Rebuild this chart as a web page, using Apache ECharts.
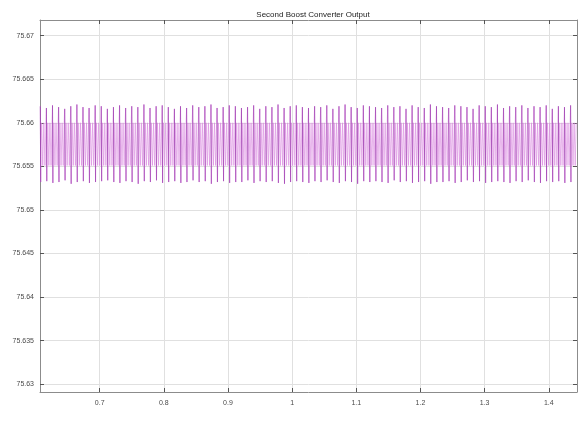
<!DOCTYPE html>
<html>
<head>
<meta charset="utf-8">
<script src="https://cdn.jsdelivr.net/npm/echarts@6/dist/echarts.min.js"></script>
<style>
html,body{margin:0;padding:0;background:#fff;}
#chart{width:579px;height:425px;}
</style>
</head>
<body>
<div id="chart"></div>
<script>
// ---- data ----
var titleText = 'Second Boost Converter Output';
var xTicks = [0.7, 0.8, 0.9, 1, 1.1, 1.2, 1.3, 1.4];
var yTicks = [75.63, 75.635, 75.64, 75.645, 75.65, 75.655, 75.66, 75.665, 75.67];
var xMin = 0.607, xMax = 1.444;
var yMin = 75.6291, yMax = 75.6718;
var tStart = 0.6075;      // first switching cycle
var period = 0.0095;      // switching cycle length (s)
var coreTop = 75.6600;    // upper edge of ripple band
var coreBottom = 75.6551; // lower edge of ripple band
// per-cycle spike maxima
var peakHigh = [
75.6619,75.6617,75.6620,75.6618,75.6616,75.6619,75.6621,75.6618,75.6617,75.6620,75.6619,
75.6616,75.6618,75.6620,75.6617,75.6619,75.6618,75.6621,75.6617,75.6619,75.6620,75.6618,
75.6616,75.6619,75.6617,75.6620,75.6618,75.6619,75.6621,75.6617,75.6618,75.6620,75.6619,
75.6617,75.6618,75.6620,75.6616,75.6619,75.6618,75.6621,75.6617,75.6619,75.6620,75.6618,
75.6617,75.6619,75.6618,75.6620,75.6616,75.6619,75.6621,75.6618,75.6617,75.6620,75.6619,
75.6618,75.6617,75.6620,75.6618,75.6619,75.6616,75.6620,75.6618,75.6617,75.6621,75.6619,
75.6618,75.6617,75.6620,75.6619,75.6618,75.6616,75.6620,75.6619,75.6618,75.6621,75.6617,
75.6619,75.6618,75.6620,75.6617,75.6619,75.6618,75.6620,75.6616,75.6619,75.6618,75.6620
];
// per-cycle spike minima
var peakLow = [
75.6532,75.6533,75.6531,75.6532,75.6534,75.6530,75.6532,75.6533,75.6531,75.6532,75.6533,
75.6534,75.6532,75.6531,75.6533,75.6532,75.6530,75.6533,75.6532,75.6534,75.6531,75.6532,
75.6533,75.6531,75.6532,75.6534,75.6532,75.6533,75.6530,75.6532,75.6533,75.6531,75.6532,
75.6532,75.6534,75.6531,75.6533,75.6532,75.6533,75.6531,75.6530,75.6532,75.6533,75.6532,
75.6531,75.6533,75.6532,75.6534,75.6532,75.6531,75.6533,75.6532,75.6530,75.6533,75.6532,
75.6533,75.6532,75.6531,75.6534,75.6532,75.6533,75.6531,75.6532,75.6533,75.6530,75.6532,
75.6532,75.6533,75.6531,75.6532,75.6534,75.6532,75.6533,75.6531,75.6532,75.6533,75.6532,
75.6531,75.6533,75.6532,75.6534,75.6532,75.6531,75.6533,75.6532,75.6533,75.6531,75.6532
];
// waveform shape inside one cycle: [fraction of period, which level]
var cycleShape = [[0,'high'],[0.06,'low'],[0.22,'top'],[0.40,'bottom'],[0.58,'top'],[0.76,'bottom'],[0.92,'top']];

// ---- build series ----
function level(name, i) {
  return name === 'high' ? peakHigh[i] : name === 'low' ? peakLow[i] : name === 'top' ? coreTop : coreBottom;
}
var wave = [], spikes = [];
for (var i = 0; i < peakHigh.length; i++) {
  var t = tStart + i * period;
  cycleShape.forEach(function (s) {
    wave.push([t + s[0] * period, level(s[1], i)]);
  });
  // the sharp high-to-low transition of the cycle (drawn darker)
  spikes.push([t, peakHigh[i]], [t + cycleShape[1][0] * period, peakLow[i]], '-');
}

var labelFont = {fontFamily: 'Liberation Sans, Arial, sans-serif', fontSize: 7, color: '#4a4a4a'};
var gridLine = {show: true, lineStyle: {color: '#e0e0e0', width: 1}};
var frame = {show: true, onZero: false, lineStyle: {color: '#8c8c8c', width: 1}};
var tick = {show: true, inside: true, length: 4, lineStyle: {color: '#555'}};

var chart = echarts.init(document.getElementById('chart'), null, {renderer: 'canvas'});
chart.setOption({
  animation: false,
  backgroundColor: '#ffffff',
  title: {
    text: titleText, left: 308, top: 6, textAlign: 'center',
    textStyle: {fontFamily: 'Liberation Sans, Arial, sans-serif', fontSize: 8, fontWeight: 'normal', color: '#222'}
  },
  grid: {left: 40, right: 2, top: 20, bottom: 33, containLabel: false},
  xAxis: [{
    type: 'value', min: xMin, max: xMax, position: 'bottom',
    axisLine: frame,
    axisTick: Object.assign({customValues: xTicks}, tick),
    axisLabel: Object.assign({customValues: xTicks, margin: 8}, labelFont),
    splitLine: gridLine
  }, {
    type: 'value', min: xMin, max: xMax, position: 'top',
    axisLine: frame,
    axisTick: Object.assign({customValues: xTicks}, tick),
    axisLabel: {show: false},
    splitLine: {show: false}
  }],
  yAxis: [{
    type: 'value', min: yMin, max: yMax, position: 'left',
    axisLine: frame,
    axisTick: Object.assign({customValues: yTicks}, tick),
    axisLabel: Object.assign({customValues: yTicks, margin: 6}, labelFont),
    splitLine: gridLine
  }, {
    type: 'value', min: yMin, max: yMax, position: 'right',
    axisLine: frame,
    axisTick: Object.assign({customValues: yTicks}, tick),
    axisLabel: {show: false},
    splitLine: {show: false}
  }],
  series: [{
    type: 'line', xAxisIndex: 0, yAxisIndex: 0,
    data: wave, showSymbol: false, symbol: 'none',
    lineStyle: {color: '#d985e0', width: 1, opacity: 0.6},
    z: 3
  }, {
    type: 'line', xAxisIndex: 0, yAxisIndex: 0,
    data: spikes, showSymbol: false, symbol: 'none', connectNulls: false,
    lineStyle: {color: '#9a3aac', width: 1, opacity: 0.75},
    z: 4
  }]
});
</script>
</body>
</html>
